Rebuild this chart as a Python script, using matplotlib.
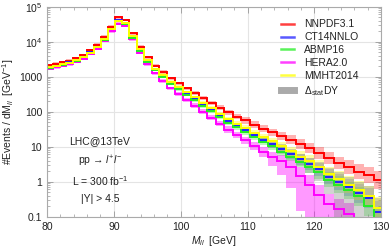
import numpy as np
import matplotlib
matplotlib.use('Agg')
import matplotlib.pyplot as plt
from matplotlib.lines import Line2D

plt.rcParams['font.family'] = ['Liberation Sans', 'DejaVu Sans']
plt.rcParams['mathtext.fontset'] = 'custom'
plt.rcParams['mathtext.rm'] = 'Liberation Sans'
plt.rcParams['mathtext.it'] = 'Liberation Sans:italic'
plt.rcParams['mathtext.bf'] = 'Liberation Sans:bold'

# bin edges in M_ll [GeV]
edges = [80.00, 80.96, 81.93, 82.91, 83.91, 84.92, 85.94, 86.97, 88.01, 89.07,
         90.14, 91.22, 92.31, 93.42, 94.54, 95.67, 96.82, 97.98, 99.16, 100.35,
         101.55, 102.77, 104.01, 105.25, 106.52, 107.80, 109.09, 110.40, 111.72,
         113.06, 114.42, 115.79, 117.18, 118.59, 120.01, 121.45, 122.91, 124.39,
         125.88, 127.39, 128.92, 130.46]

# log10(#Events / dM) per bin
nnpdf = [3.33, 3.37, 3.41, 3.46, 3.53, 3.62, 3.75, 3.91, 4.14, 4.43,
         4.70, 4.62, 4.24, 3.86, 3.56, 3.31, 3.13, 2.95, 2.81, 2.67,
         2.53, 2.39, 2.25, 2.11, 1.98, 1.86, 1.75, 1.63, 1.52, 1.41,
         1.31, 1.20, 1.08, 0.97, 0.82, 0.68, 0.54, 0.41, 0.29, 0.18, 0.05]
ct14 = [3.28, 3.32, 3.36, 3.41, 3.48, 3.57, 3.70, 3.86, 4.08, 4.37,
        4.61, 4.53, 4.15, 3.77, 3.46, 3.21, 3.03, 2.83, 2.68, 2.52,
        2.37, 2.21, 2.05, 1.89, 1.74, 1.60, 1.47, 1.33, 1.20, 1.08,
        0.93, 0.79, 0.64, 0.50, 0.35, 0.14, 0.00, -0.16, -0.33, -0.47, -0.86]
abmp = [3.26, 3.30, 3.34, 3.39, 3.46, 3.55, 3.68, 3.84, 4.06, 4.35,
        4.58, 4.50, 4.12, 3.74, 3.43, 3.18, 2.99, 2.79, 2.64, 2.48,
        2.33, 2.17, 2.01, 1.85, 1.69, 1.55, 1.41, 1.27, 1.14, 1.01,
        0.86, 0.72, 0.57, 0.42, 0.27, 0.06, -0.08, -0.25, -0.42, -0.70, -1.05]
hera = [3.23, 3.27, 3.31, 3.36, 3.43, 3.52, 3.65, 3.80, 4.02, 4.30,
        4.52, 4.45, 4.07, 3.68, 3.36, 3.10, 2.88, 2.67, 2.51, 2.34,
        2.17, 2.00, 1.83, 1.66, 1.49, 1.33, 1.18, 1.02, 0.86, 0.71,
        0.60, 0.43, 0.16, -0.10, -0.38, -0.65, -0.78, -0.92, -1.30, -1.30, -1.30]
mmht = [3.27, 3.31, 3.35, 3.40, 3.47, 3.56, 3.69, 3.85, 4.07, 4.36,
        4.59, 4.53, 4.16, 3.78, 3.48, 3.23, 3.06, 2.86, 2.72, 2.56,
        2.41, 2.26, 2.10, 1.94, 1.80, 1.66, 1.53, 1.40, 1.27, 1.15,
        1.01, 0.87, 0.72, 0.58, 0.43, 0.22, 0.08, -0.08, -0.25, -0.40, -0.76]

# uncertainty band half-widths (decades)
band_red = [0.04] * 16 + [0.05] * 5 + [0.06, 0.07, 0.07, 0.08, 0.08, 0.09, 0.10, 0.10, 0.11,
            0.12, 0.13, 0.14, 0.15, 0.16, 0.17, 0.18, 0.20, 0.21, 0.23, 0.25]
band_pdf = [0.03] * 16 + [0.04] * 5 + [0.05, 0.05, 0.06, 0.06, 0.07, 0.08, 0.09, 0.10, 0.11,
            0.12, 0.13, 0.15, 0.17, 0.19, 0.21, 0.23, 0.25, 0.27, 0.29, 0.31]
hera_hi = [0.04] * 16 + [0.05, 0.05, 0.06, 0.06, 0.07, 0.07, 0.08, 0.08, 0.09, 0.09,
           0.10, 0.11, 0.13, 0.15, 0.17, 0.20, 0.25, 0.29, 0.30, 0.30, 0.30, 0.30, 0.30, 0.30, 0.30]
hera_lo = [0.04] * 16 + [0.05, 0.05, 0.06, 0.06, 0.07, 0.07, 0.08, 0.08, 0.09, 0.09,
           0.10, 0.12, 0.15, 0.25, 0.40, 0.60, 1.00, 3.0, 3.0, 3.0, 3.0, 3.0, 3.0, 3.0, 3.0]
stat_hi = [0.02] * 16 + [0.03] * 5 + [0.04, 0.04, 0.05, 0.06, 0.07, 0.08, 0.09, 0.10, 0.12,
           0.14, 0.14, 0.16, 0.18, 0.20, 0.24, 0.27, 0.30, 0.33, 0.36, 0.40]
stat_lo = [0.02] * 16 + [0.03] * 5 + [0.04, 0.04, 0.05, 0.06, 0.07, 0.08, 0.09, 0.10, 0.12,
           0.14, 0.17, 0.20, 0.25, 0.32, 0.50, 3.0, 3.0, 3.0, 3.0, 3.0]

labels = ['NNPDF3.1', 'CT14NNLO', 'ABMP16', 'HERA2.0', 'MMHT2014']
colors = ['#ff0000', '#2222ff', '#22ee22', '#ff00ff', '#ffff00']

fig = plt.figure(figsize=(3.9, 2.52), dpi=100)
ax = fig.add_axes([0.1205, 0.140, 0.857, 0.8334])
ax.set_yscale('log')

e = np.array(edges)
def lin(a):
    return 10 ** np.array(a, dtype=float)

series = [nnpdf, ct14, abmp, hera, mmht]
los = [band_red, band_pdf, band_pdf, hera_lo, band_pdf]
his = [band_red, band_pdf, band_pdf, hera_hi, band_pdf]
alphas = [0.3, 0.25, 0.3, 0.4, 0.35]

# bands
for s, lo, hi, c, a in zip(series, los, his, colors, alphas):
    s = np.array(s)
    ax.stairs(lin(s + np.array(hi)), e, baseline=lin(s - np.array(lo)), fill=True,
              color=c, alpha=a, lw=0)
ax.stairs(lin(np.array(ct14) + np.array(stat_hi)), e,
          baseline=lin(np.array(ct14) - np.array(stat_lo)), fill=True,
          color='#808080', alpha=0.35, lw=0)

# lines
order = [0, 3, 1, 2, 4]
for i in order:
    ax.stairs(lin(series[i]), e, baseline=None, color=colors[i], lw=1.4)

ax.set_xlim(80, 130)
ax.set_ylim(0.1, 1e5)
ax.set_xticks([80, 90, 100, 110, 120, 130])
ax.set_xticks(np.arange(80, 131, 2), minor=True)
ax.set_yticks([0.1, 1, 10, 100, 1000, 1e4, 1e5])
ax.set_yticklabels(['0.1', '1', '10', '100', '1000', r'$10^4$', r'$10^5$'])
ax.grid(True, which='major', color='#e4e4e4', lw=0.8)
ax.set_axisbelow(True)
ax.tick_params(which='both', direction='in', top=True, right=True,
               color='#999999', labelsize=7.5, labelcolor='#222222')
ax.tick_params(which='major', length=4, width=0.6)
ax.tick_params(which='minor', length=2, width=0.5)
for sp in ax.spines.values():
    sp.set_color('#aaaaaa')
    sp.set_linewidth(0.8)

ax.set_xlabel(r'$M_{ll}$  [GeV]', fontsize=7.5, color='#222222', labelpad=2)
ax.set_ylabel(r'#Events / dM$_{ll}$  [GeV$^{-1}$]', fontsize=7.5,
              color='#222222', labelpad=2)

tx = 0.158
ax.text(tx, 0.36, 'LHC@13TeV', transform=ax.transAxes, ha='center', va='center', fontsize=7.5, color='#222222')
ax.text(tx, 0.265, 'pp → $l^{+}l^{-}$', transform=ax.transAxes, ha='center', va='center', fontsize=7.5, color='#222222')
ax.text(tx, 0.17, r'L = 300 fb$^{-1}$', transform=ax.transAxes, ha='center', va='center', fontsize=7.5, color='#222222')
ax.text(tx, 0.085, '|Y| > 4.5', transform=ax.transAxes, ha='center', va='center', fontsize=7.5, color='#222222')

handles = [Line2D([], [], color=c, lw=1.8, alpha=0.75) for c in colors]
handles.append(Line2D([], [], color='#aaaaaa', lw=5))
leg = ax.legend(handles, labels + [r'$\Delta_{\rm stat}$DY'], loc='upper left',
                bbox_to_anchor=(0.685, 0.965), frameon=False, fontsize=7.5,
                handlelength=1.2, handletextpad=1.0, labelspacing=0.28, borderpad=0)
for t in leg.get_texts():
    t.set_color('#222222')

fig.savefig('out.png', dpi=100)
